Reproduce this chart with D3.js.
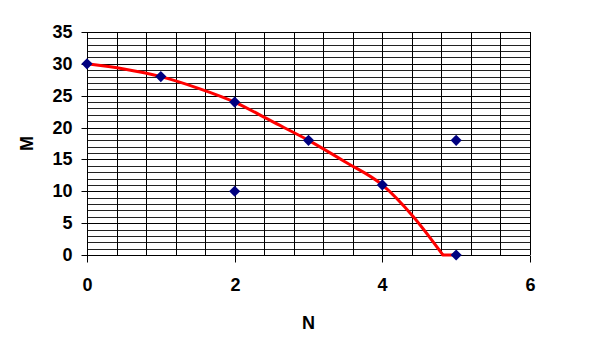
<!DOCTYPE html>
<html>
<head>
<meta charset="utf-8">
<script src="https://cdn.jsdelivr.net/npm/d3@7"></script>
<style>
  body { margin: 0; background: #fff; }
  text { font-family: "Liberation Sans", Arial, sans-serif; font-weight: bold; fill: #000; }
</style>
</head>
<body>
<div id="chart"></div>
<script>
// data points (N, M)
const pointN = [0, 1, 2, 2, 3, 4, 5, 5];
const pointM = [30, 28, 24, 10, 18, 11, 18, 0];

// red curve (it runs into the axis and then flat to N=5)
const curveN = [0, 0.5, 1, 1.5, 2, 2.5, 3, 3.5, 4, 4.42, 4.82];
const curveM = [30, 29.2, 28, 26.2, 24, 21, 18, 14.6, 11, 6, 0];
const flatN = [4.82, 5];
const flatM = [0, 0];

const xTicks = [0, 2, 4, 6];
const yTicks = [0, 5, 10, 15, 20, 25, 30, 35];

const W = 605, H = 356;
const margin = { top: 32, right: 75, bottom: 101, left: 87 };

const svg = d3.select("#chart").append("svg")
    .attr("width", W)
    .attr("height", H);

const x = d3.scaleLinear().domain([0, 6]).range([margin.left, W - margin.right]);
const y = d3.scaleLinear().domain([0, 35]).range([H - margin.bottom, margin.top]);

// minor gridlines
const xMinor = d3.range(0, 6.001, 0.4);
const yMinor = d3.range(0, 35.001, 1);

svg.append("g")
    .selectAll("line")
    .data(yMinor)
    .enter().append("line")
    .attr("x1", x(0)).attr("x2", x(6))
    .attr("y1", d => Math.round(y(d)) + 0.5)
    .attr("y2", d => Math.round(y(d)) + 0.5)
    .attr("stroke", d => d % 5 === 0 ? "#000" : "#222")
    .attr("stroke-width", 1);

svg.append("g")
    .selectAll("line")
    .data(xMinor)
    .enter().append("line")
    .attr("y1", y(0)).attr("y2", y(35))
    .attr("x1", d => Math.round(x(d)) + 0.5)
    .attr("x2", d => Math.round(x(d)) + 0.5)
    .attr("stroke", "#000")
    .attr("stroke-width", 1);

// axes
const xAxis = d3.axisBottom(x).tickValues(xTicks).tickSize(7).tickPadding(16).tickFormat(d3.format("d"));
const yAxis = d3.axisLeft(y).tickValues(yTicks).tickSize(6).tickPadding(9).tickFormat(d3.format("d"));

const gx = svg.append("g")
    .attr("transform", "translate(0," + (Math.round(y(0)) + 0.5) + ")")
    .call(xAxis);
gx.select(".domain").remove();
gx.selectAll(".tick").attr("transform", d => "translate(" + (Math.round(x(d)) + 0.5) + ",0)");
gx.selectAll("line").attr("stroke", "#000");
gx.selectAll("text").style("font-size", "18px");

const gy = svg.append("g")
    .attr("transform", "translate(" + (Math.round(x(0)) + 0.5) + ",0)")
    .call(yAxis);
gy.select(".domain").remove();
gy.selectAll(".tick").attr("transform", d => "translate(0," + (Math.round(y(d)) + 0.5) + ")");
gy.selectAll("line").attr("stroke", "#000");
gy.selectAll("text").style("font-size", "18px");

// curve
const curveLine = d3.line()
    .x((d, i) => x(curveN[i]))
    .y((d, i) => y(curveM[i]))
    .curve(d3.curveMonotoneX);

const flatLine = d3.line()
    .x((d, i) => x(flatN[i]))
    .y((d, i) => y(flatM[i]));

svg.append("path")
    .datum(curveN)
    .attr("d", curveLine)
    .attr("fill", "none")
    .attr("stroke", "#ff0000")
    .attr("stroke-width", 3)
    .attr("stroke-linejoin", "round");

svg.append("path")
    .datum(flatN)
    .attr("d", flatLine)
    .attr("fill", "none")
    .attr("stroke", "#ff0000")
    .attr("stroke-width", 3)
    .attr("stroke-linecap", "round");

// markers
svg.append("g")
    .selectAll("path")
    .data(pointN)
    .enter().append("path")
    .attr("d", d3.symbol().type(d3.symbolSquare).size(62))
    .attr("transform", (d, i) => "translate(" + x(d) + "," + y(pointM[i]) + ") rotate(45)")
    .attr("fill", "#000080");

// axis titles
svg.append("text")
    .attr("x", (x(0) + x(6)) / 2)
    .attr("y", 329)
    .attr("text-anchor", "middle")
    .style("font-size", "18px")
    .text("N");

svg.append("text")
    .attr("transform", "translate(33," + ((y(0) + y(35)) / 2) + ") rotate(-90)")
    .attr("text-anchor", "middle")
    .style("font-size", "18px")
    .text("M");
</script>
</body>
</html>
